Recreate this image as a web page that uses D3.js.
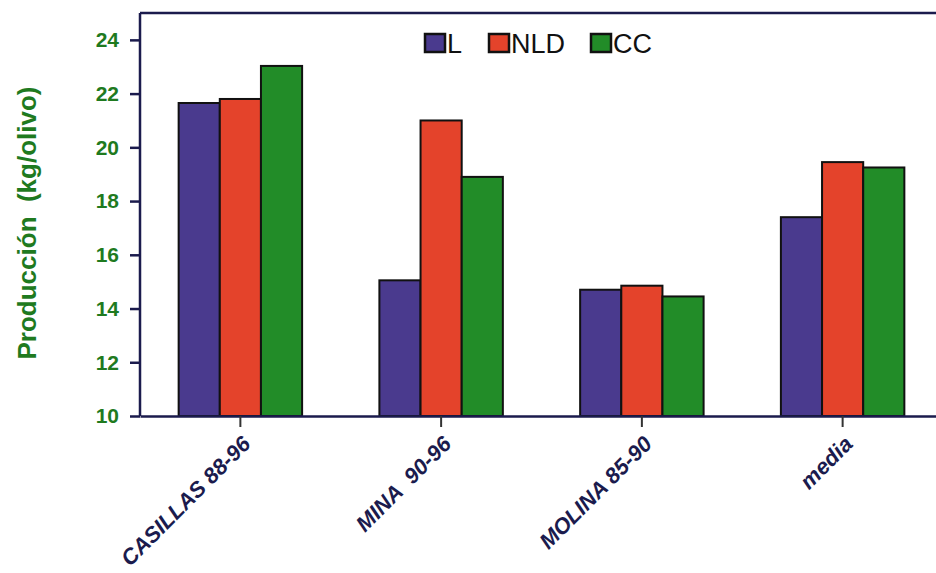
<!DOCTYPE html>
<html>
<head>
<meta charset="utf-8">
<script src="https://cdn.jsdelivr.net/npm/d3@7"></script>
<style>
  body { margin: 0; background: #fff; }
  svg { display: block; }
</style>
</head>
<body>
<svg id="chart" width="936" height="573"></svg>
<script>
// data
const categories = ["CASILLAS 88-96", "MINA  90-96", "MOLINA 85-90", "media"];
const series = ["L", "NLD", "CC"];
const valuesL = [21.65, 15.05, 14.7, 17.4];
const valuesNLD = [21.8, 21.0, 14.85, 19.45];
const valuesCC = [23.03, 18.9, 14.45, 19.25];
const yTicks = [10, 12, 14, 16, 18, 20, 22, 24];
const colors = ["#4a3a8e", "#e4432b", "#228c28"];

const allValues = [valuesL, valuesNLD, valuesCC];

let svg = d3.select("#chart");
let margin = {left: 140, top: 13, right: -7, bottom: 157};
let width = 936 - margin.left - margin.right;
let height = 573 - margin.top - margin.bottom;
let navy = "#1b1b4d";
let green = "#1f7a1f";
let font = "Liberation Sans, Arial, sans-serif";

let g = svg.append("g").attr("transform", "translate(" + margin.left + "," + margin.top + ")");

let xScale = d3.scaleBand().domain(categories).range([0, width]);
let step = xScale.step();
let groupW = step * 0.615;
let xSub = d3.scaleBand().domain(series).range([0, groupW]);

let yScale = d3.scaleLinear().domain([10, 25]).range([height, 0]);

// bars
categories.forEach(function(cat, i) {
  let cx = xScale(cat) + step / 2;
  series.forEach(function(s, j) {
    let v = allValues[j][i];
    g.append("rect")
      .attr("x", cx - groupW / 2 + xSub(s))
      .attr("y", yScale(v))
      .attr("width", xSub.bandwidth())
      .attr("height", yScale(10) - yScale(v))
      .attr("fill", colors[j])
      .attr("stroke", "#111")
      .attr("stroke-width", 2);
  });
});

// top frame line
g.append("line")
  .attr("x1", 0).attr("x2", width)
  .attr("y1", 0).attr("y2", 0)
  .attr("stroke", navy).attr("stroke-width", 2.5);

// y axis
let yAxis = g.append("g")
  .call(d3.axisLeft(yScale).tickValues(yTicks).tickSize(10).tickPadding(11).tickFormat(d3.format("d")));
yAxis.select(".domain").attr("stroke", navy).attr("stroke-width", 2.5).attr("d", "M0," + height + "V0");
yAxis.selectAll(".tick line").attr("stroke", navy).attr("stroke-width", 2.5);
yAxis.selectAll("text")
  .attr("fill", green)
  .style("font-family", font)
  .style("font-weight", "bold")
  .style("font-size", "21px");

// x axis
let xAxis = g.append("g")
  .attr("transform", "translate(0," + height + ")")
  .call(d3.axisBottom(xScale).tickSize(11).tickSizeOuter(0).tickFormat(""));
xAxis.select(".domain").attr("stroke", navy).attr("stroke-width", 2.5);
xAxis.selectAll(".tick line").attr("stroke", "#333").attr("stroke-width", 2);

categories.forEach(function(cat) {
  let cx = xScale(cat) + step / 2;
  g.append("text")
    .attr("transform", "translate(" + (cx + 6) + "," + (height + 24) + ") rotate(-45)")
    .attr("text-anchor", "end")
    .attr("dy", "0.35em")
    .attr("fill", navy)
    .style("font-family", font)
    .style("font-weight", "bold")
    .style("font-style", "italic")
    .style("font-size", "22px")
    .style("white-space", "pre")
    .text(cat);
});

// y title
svg.append("text")
  .attr("transform", "translate(36," + 223 + ") rotate(-90)")
  .attr("text-anchor", "middle")
  .attr("fill", green)
  .style("font-family", font)
  .style("font-weight", "bold")
  .style("font-size", "26px")
  .style("white-space", "pre")
  .text("Producción  (kg/olivo)");

// legend
let legendX = [425, 489, 591];
let legend = svg.append("g");
series.forEach(function(s, j) {
  legend.append("rect")
    .attr("x", legendX[j]).attr("y", 34)
    .attr("width", 20).attr("height", 18)
    .attr("fill", colors[j])
    .attr("stroke", "#111").attr("stroke-width", 2.5);
  legend.append("text")
    .attr("x", legendX[j] + 22).attr("y", 53)
    .attr("fill", "#111")
    .style("font-family", font)
    .style("font-size", "27px")
    .text(s);
});
</script>
</body>
</html>
